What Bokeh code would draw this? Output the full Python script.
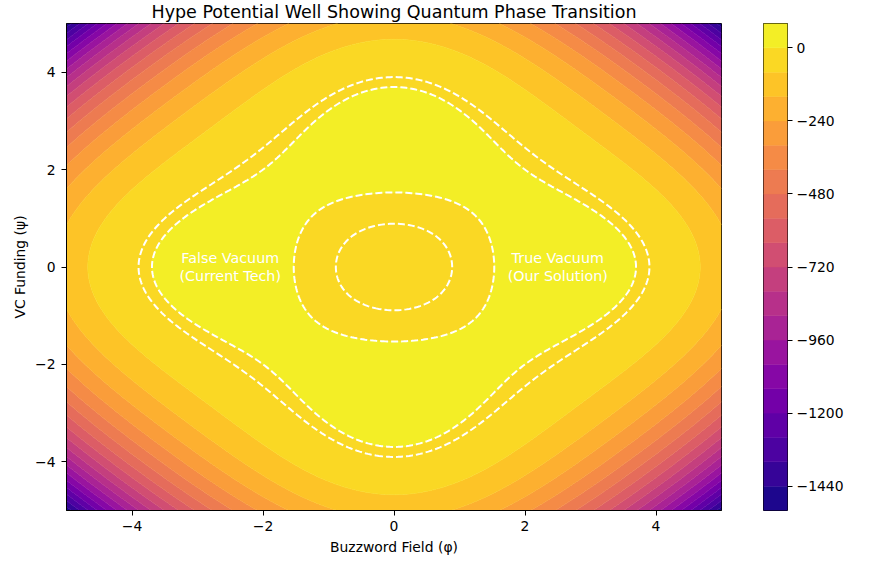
import numpy as np
from bokeh.plotting import figure
from bokeh.models import Range1d, FixedTicker, Label
from bokeh.layouts import row
from bokeh.palettes import Plasma256
from bokeh.core.properties import value
from bokeh.embed import file_html
from bokeh.resources import INLINE

# ---- data -------------------------------------------------------------
# grid of the two fields
phi = np.linspace(-5, 5, 240)
psi = np.linspace(-5, 5, 240)

# potential coefficients
V_OFFSET = -16.0
V_QUAD = 8.0
V_QUARTIC = 0.5
V_CROSS = 1.0

# filled contour levels and highlighted (dashed) contour levels
fill_levels = [-1520, -1440, -1360, -1280, -1200, -1120, -1040, -960, -880, -800,
               -720, -640, -560, -480, -400, -320, -240, -160, -80, 0, 80]
line_levels = [-10, 0]

x_ticks = [-4, -2, 0, 2, 4]
y_ticks = [-4, -2, 0, 2, 4]
cbar_ticks = [0, -240, -480, -720, -960, -1200, -1440]

note_x = [-2.5, 2.5]
note_y = [0, 0]
note_text = ["False Vacuum\n(Current Tech)", "True Vacuum\n(Our Solution)"]

title_text = "Hype Potential Well Showing Quantum Phase Transition"
x_label = "Buzzword Field (\u03c6)"
y_label = "VC Funding (\u03c8)"
cbar_label = "Hype Potential Energy"

# ---- field ------------------------------------------------------------
PHI, PSI = np.meshgrid(phi, psi)
R2 = PHI**2 + PSI**2
V = V_OFFSET + V_QUAD * R2 - V_QUARTIC * R2**2 - V_CROSS * PHI**2 * PSI**2

n_bands = len(fill_levels) - 1
palette = [Plasma256[min(255, int((i + 0.5) / n_bands * 256))] for i in range(n_bands)]
# stroke each level boundary in an adjacent band colour to hide anti-aliasing seams
seam_colors = palette + [palette[-1]]

FONT = "DejaVu Sans"


def minus(v):
    s = f"{v:g}"
    return s.replace("-", "\u2212")


# ---- main figure ------------------------------------------------------
p = figure(frame_width=655, frame_height=487,
           x_range=Range1d(-5, 5), y_range=Range1d(-5, 5),
           output_backend="svg", toolbar_location=None,
           min_border_left=66, min_border_right=10,
           min_border_top=23, min_border_bottom=45)
p.background_fill_color = "white"
p.grid.visible = False
p.outline_line_color = "black"
p.outline_line_width = 1

p.title.text = title_text
p.title.align = "center"
p.title.text_font = FONT
p.title.text_font_size = "17.5px"
p.title.text_font_style = "normal"
p.title.text_color = "black"
p.title.standoff = 0
p.title.vertical_align = "top"

p.contour(phi, psi, V, fill_levels, fill_color=palette,
          line_color=seam_colors, line_width=0.8)
p.contour(phi, psi, V, line_levels, line_color="white", line_width=2,
          line_dash="7 3")

p.text(x=note_x, y=note_y, text=note_text, text_color="white",
       text_align="center", text_baseline="middle",
       text_font=value(FONT), text_font_size="14.3px", text_line_height=1.12)

for ax, ticks, lab in ((p.xaxis, x_ticks, x_label), (p.yaxis, y_ticks, y_label)):
    ax.ticker = FixedTicker(ticks=ticks)
    ax.major_label_overrides = {t: minus(t) for t in ticks}
    ax.minor_tick_line_color = None
    ax.major_tick_in = 0
    ax.major_tick_out = 5
    ax.major_label_text_font = FONT
    ax.major_label_text_font_size = "13.9px"
    ax.major_label_text_color = "black"
    ax.axis_label = lab
    ax.axis_label_text_font = FONT
    ax.axis_label_text_font_size = "13.9px"
    ax.axis_label_text_font_style = "normal"
    ax.axis_label_text_color = "black"
    ax.axis_line_color = "black"
    ax.major_tick_line_color = "black"
p.yaxis.major_label_standoff = 6
p.yaxis.axis_label_standoff = 4

# ---- colorbar figure --------------------------------------------------
cb = figure(frame_width=24, frame_height=487,
            x_range=Range1d(0, 1), y_range=Range1d(fill_levels[0], fill_levels[-1]),
            output_backend="svg", toolbar_location=None,
            x_axis_location=None, y_axis_location="right",
            min_border_left=32, min_border_right=74,
            min_border_top=23, min_border_bottom=45)
cb.grid.visible = False
cb.outline_line_color = "black"
cb.outline_line_width = 1
cb.quad(left=0, right=1, bottom=fill_levels[:-1], top=fill_levels[1:],
        fill_color=palette, line_color=palette, line_width=0.5)
ya = cb.yaxis[0]
ya.ticker = FixedTicker(ticks=cbar_ticks)
ya.major_label_overrides = {t: minus(t) for t in cbar_ticks}
ya.minor_tick_line_color = None
ya.major_tick_in = 0
ya.major_tick_out = 5
ya.major_label_standoff = 4
ya.major_label_text_font = FONT
ya.major_label_text_font_size = "13.9px"
ya.major_label_text_color = "black"
ya.axis_line_color = None
cb.add_layout(Label(x=87, y=243.5, x_units="screen", y_units="screen",
                    text=cbar_label, angle=np.pi / 2, text_align="center",
                    text_baseline="middle", text_font=FONT,
                    text_font_size="13.9px", text_color="black"))

layout = row(p, cb)
open("out.html", "w").write(file_html(layout, INLINE))
